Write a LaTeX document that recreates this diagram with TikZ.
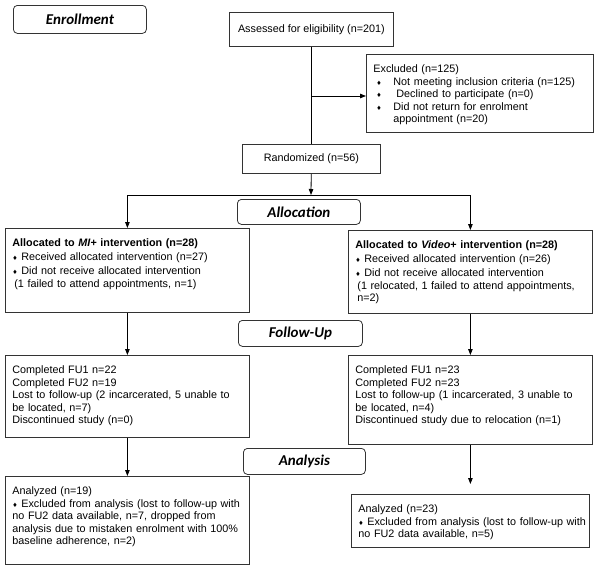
\documentclass[tikz,border=0pt]{standalone}
\usepackage{fontspec}
\setmainfont{Liberation Sans}
\newfontfamily\stagefont{Carlito}
\newfontfamily\symfont{DejaVu Sans}
\usetikzlibrary{arrows.meta}
\newcommand{\dia}{{\symfont\fontsize{6}{6}\selectfont ♦}}
\newcommand{\exitem}{\makebox[20pt][l]{\hspace{3pt}\dia}}
\tikzset{
	flow/.style={draw=black!80, line width=0.8pt, anchor=north west, align=left,
			inner xsep=7pt, inner ysep=10.5pt, text height=8pt,
			font=\fontsize{10.8}{12.5}\selectfont},
	single/.style={draw=black!80, line width=0.8pt, anchor=north west, inner sep=0pt,
			font=\fontsize{10.8}{12.5}\selectfont},
	stage/.style={draw=black!80, line width=0.8pt, rounded corners=4pt, anchor=north west,
			inner sep=0pt, font=\stagefont\bfseries\itshape\fontsize{15}{18}\selectfont},
	arr/.style={-{Triangle[length=6pt,width=4.5pt]}, line width=0.8pt},
}
\begin{document}
\begin{tikzpicture}[x=1pt, y=-1pt]
	\useasboundingbox (0,0) rectangle (600,570);

	\node[stage, minimum width=133pt, minimum height=28pt] (enrol) at (13,5) {Enrollment};
	\node[single, minimum width=164pt, minimum height=34pt] (assess) at (229,12) {Assessed for eligibility (n=201)};
	\node[flow, text width=213pt, text depth=49pt] (excl) at (366,54) {
		Excluded (n=125)\\
		\exitem\mbox{Not meeting inclusion criteria (n=125)}\\
		\exitem\hspace{3pt}Declined to participate (n=0)\\
		\exitem Did not return for enrolment\\
		\hspace*{20pt}appointment (n=20)};
	\node[single, minimum width=138pt, minimum height=29pt] (rand) at (242,144) {Randomized (n=56)};

	\node[stage, minimum width=123pt, minimum height=25pt] (alloc) at (237,199) {Allocation};
	\node[flow, text width=230pt, text depth=55pt] (mialloc) at (5,228) {
		\textbf{Allocated to \textit{MI}+ intervention (n=28)}\\[1pt]
		\dia\ Received allocated intervention (n=27)\\[2pt]
		\dia\ Did not receive allocated intervention\\
		\hspace*{2pt}\mbox{(1 failed to attend appointments, n=1)}};
	\node[flow, text width=230pt, text depth=54pt] (vidalloc) at (348,230) {
		\textbf{Allocated to \textit{Video}+ intervention (n=28)}\\[1pt]
		\dia\ Received allocated intervention (n=26)\\[2pt]
		\dia\ Did not receive allocated intervention\\
		\hspace*{2pt}\mbox{(1 relocated, 1 failed to attend appointments,}\\
		\hspace*{2pt}n=2)};

	\node[stage, minimum width=124pt, minimum height=26pt] (follow) at (238,320) {Follow-Up};
	\node[flow, text width=230pt, text depth=53pt] (mifu) at (5,355) {
		Completed FU1 n=22\\
		Completed FU2 n=19\\
		\mbox{Lost to follow-up (2 incarcerated, 5 unable to}\\
		be located, n=7)\\
		Discontinued study (n=0)};
	\node[flow, text width=230pt, text depth=60pt] (vidfu) at (348,355) {
		Completed FU1 n=23\\
		Completed FU2 n=23\\
		\mbox{Lost to follow-up (1 incarcerated, 3 unable to}\\
		be located, n=4)\\
		\mbox{Discontinued study due to relocation (n=1)}};

	\node[stage, minimum width=122pt, minimum height=26pt] (analysis) at (243,448) {Analysis};
	\node[flow, text width=230pt, text depth=59pt] (mian) at (5,476) {
		Analyzed (n=19)\\
		\mbox{\dia\ Excluded from analysis (lost to follow-up with}\\
		\mbox{no FU2 data available, n=7, dropped from}\\
		\mbox{analysis due to mistaken enrolment with 100\%}\\
		baseline adherence, n=2)};
	\node[flow, text width=224pt, text depth=24pt] (vidan) at (351,494) {
		Analyzed (n=23)\\
		\mbox{\dia\ Excluded from analysis (lost to follow-up with}\\
		no FU2 data available, n=5)};

	\coordinate (split) at (311,96);
	\coordinate (fork) at (311,195);
	\draw[line width=0.8pt] (assess) -- (rand);
	\draw[arr] (split) -- (split -| excl.west);
	\draw[arr] (rand) -- (fork);
	\draw[arr] (fork) -| (mialloc);
	\draw[arr] (fork) -| (vidalloc);
	\draw[arr] (mialloc) -- (mifu);
	\draw[arr] (vidalloc) -- (vidfu);
	\draw[arr] (mifu) -- (mian);
	\draw[arr, shorten >=10pt] (vidfu) -- (vidan);

\end{tikzpicture}
\end{document}
